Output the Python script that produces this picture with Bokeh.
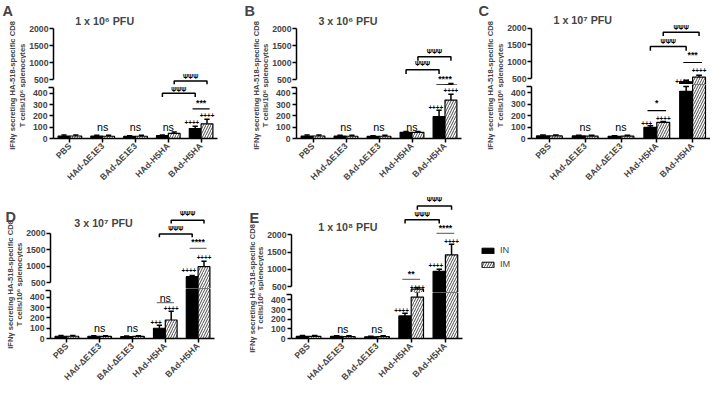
import math
from bokeh.plotting import figure
from bokeh.models import (ColumnDataSource, FactorRange, Range1d, FixedTicker,
                          Label, Legend, LegendItem)
from bokeh.transform import dodge
from bokeh.layouts import row, column
from bokeh.embed import file_html
from bokeh.resources import INLINE
from bokeh.core.properties import value

# ---------------------------------------------------------------- data
groups = ["PBS", "HAd-ΔE1E3", "BAd-ΔE1E3", "HAd-H5HA", "BAd-H5HA"]
series = ["IN", "IM"]
letters = ["A", "B", "C", "D", "E"]
titles = ["1 x 10⁶ PFU", "3 x 10⁶ PFU", "1 x 10⁷ PFU", "3 x 10⁷ PFU", "1 x 10⁸ PFU"]
y_label_1 = "IFNγ secreting HA-518-specific CD8"
y_label_2 = "T cells/10⁶ splenocytes"
low_ticks = [0, 100, 200, 300, 400]
up_ticks = [500, 1000, 1500, 2000]

in_A = [22, 22, 18, 25, 88]
in_A_err = [8, 6, 6, 5, 20]
im_A = [22, 20, 20, 45, 130]
im_A_err = [8, 8, 8, 12, 40]

in_B = [22, 22, 18, 55, 194]
in_B_err = [8, 6, 6, 8, 56]
im_B = [22, 20, 20, 55, 341]
im_B_err = [8, 8, 8, 8, 51]

in_C = [22, 22, 18, 96, 411]
in_C_err = [8, 6, 6, 14, 42]
im_C = [22, 20, 20, 141, 548]
im_C_err = [8, 8, 8, 8, 57]

in_D = [22, 22, 18, 100, 684]
in_D_err = [8, 6, 6, 30, 40]
im_D = [22, 20, 20, 180, 988]
im_D_err = [8, 8, 8, 85, 164]

in_E = [22, 22, 18, 234, 944]
in_E_err = [8, 6, 6, 29, 64]
im_E = [22, 20, 20, 430, 1425]
im_E_err = [8, 8, 8, 50, 305]

# significance annotations (text, height on the axis scale)
ann = {
    "A": dict(ns=[1, 2, 3],
              plus=[("low", 4, "IN", "++++", 138), ("low", 4, "IM", "++++", 200)],
              sig=[("low", 4, "***", 318, 262, "black")],
              brk=[("low", "IN", 402, 369, 439), ("up", "IM", 463, 367, 605)]),
    "B": dict(ns=[1, 2, 3],
              plus=[("low", 4, "IN", "++++", 276), ("low", 4, "IM", "++++", 425)],
              sig=[("up", 4, "****", 508, 350, "black")],
              brk=[("up", "IN", 792, 670, 981), ("up", "IM", 1171, 1058, 1329)]),
    "C": dict(ns=[1, 2],
              plus=[("low", 3, "IN", "+++", 130), ("low", 3, "IM", "++++", 177),
                    ("up", 4, "IN", "++++", 415), ("up", 4, "IM", "++++", 746)],
              sig=[("low", 3, "*", 307, 242, "black"), ("up", 4, "***", 1199, 981, "black")],
              brk=[("up", "IN", 1454, 1330, 1612), ("up", "IM", 1878, 1765, 2020)]),
    "D": dict(ns=[1, 2],
              plus=[("low", 3, "IN", "+++", 160), ("low", 3, "IM", "++++", 290),
                    ("up", 4, "IN", "++++", 860), ("up", 4, "IM", "++++", 1280)],
              sig=[("low", 3, "ns", 390, 350, "#777777"), ("up", 4, "****", 1737, 1544, "#777777")],
              brk=[("up", "IN", 1982, 1883, 2146), ("up", "IM", 2400, 2304, 2614)]),
    "E": dict(ns=[1, 2],
              plus=[("low", 3, "IN", "++++", 291), ("up", 3, "IM", "++++", 489),
                    ("up", 4, "IN", "++++", 1119), ("up", 4, "IM", "++++", 1822)],
              sig=[("up", 3, "**", 869, 711, "#777777"), ("up", 4, "****", 2194, 2044, "#777777")],
              brk=[("up", "IN", 2444, 2333, 2600), ("up", "IM", 2842, 2730, 3027)]),
}

# ---------------------------------------------------------------- layout (reference pixels)
FONT = "Liberation Sans"
KX = 710 / 726
KY = 388 / 404


def X(v):
    return int(round(v * KX))


def Y(v):
    return int(round(v * KY))


def fs(s):
    return f"{s * 0.97:.1f}px"


TICK_AREA = 25
BAR_W = 0.36
OFF = 0.18
CAP = 0.08

geo = {
    "A": dict(bx=0, by=0, bw=249, bh=200, ax=52, fr=222, y0=143.7, sl=11.85, y500=82, su=3.533,
              letter=(2, 2), lab=(12.5, 24.5), labc=88, title=(53, 21.5)),
    "B": dict(bx=249, by=0, bw=240, bh=200, ax=301, fr=471, y0=143.7, sl=11.85, y500=82, su=3.533,
              letter=(0, 2), lab=(12.5, 24.5), labc=88, title=(53, 21.5)),
    "C": dict(bx=489, by=0, bw=237, bh=200, ax=541, fr=726, y0=143.5, sl=11.85, y500=81.8, su=3.533,
              letter=(-1, 2), lab=(12.5, 24.5), labc=88, title=(53, 20.5)),
    "D": dict(bx=0, by=200, bw=244, bh=204, ax=49, fr=219, y0=356, sl=11.5, y500=294, su=3.42,
              letter=(5, 17), lab=(10, 21.5), labc=296, title=(55, 31.5)),
    "E": dict(bx=244, by=200, bw=234, bh=204, ax=296, fr=472, y0=360, sl=11.67, y500=298.3, su=3.6,
              letter=(11, 18), lab=(14, 25.5), labc=300, title=(58, 36.5)),
}


def blank_fig(w, h, xr, yr, **kw):
    p = figure(width=w, height=h, x_range=xr, y_range=yr, output_backend="svg",
               toolbar_location=None, tools="", **kw)
    p.outline_line_color = None
    p.xgrid.grid_line_color = None
    p.ygrid.grid_line_color = None
    p.border_fill_color = "white"
    p.background_fill_color = "white"
    return p


def style_yaxis(ax_):
    ax_.axis_line_width = 1.5
    ax_.major_tick_out = 4
    ax_.major_tick_in = 0
    ax_.major_tick_line_width = 1.5
    ax_.minor_tick_in = 0
    ax_.minor_tick_out = 0
    ax_.major_label_standoff = 1
    ax_.major_label_text_font = FONT
    ax_.major_label_text_font_style = "bold"
    ax_.major_label_text_font_size = fs(9)


def txt(p, x, y, t, size, bold=True, color="black", align="center", font=FONT):
    p.text(x=[x], y=[y], text=[t], text_font=value(font), text_font_size=value(size),
           text_font_style="bold" if bold else "normal", text_color=color,
           text_align=align, text_baseline="middle")


def make_panel(k, vin, ein, vim, eim, idx):
    g = geo[k]
    a = ann[k]
    bx, by, bw, bh = g["bx"], g["by"], g["bw"], g["bh"]
    ax, fr, y0, sl, y500, su = g["ax"], g["fr"], g["y0"], g["sl"], g["y500"], g["su"]
    yb = y500 + 6
    ylt = y500 + 8

    def vup(y):
        return 500 + (y500 - y) / su * 100

    def vlow(y):
        return (y0 - y) / sl * 100

    low_top = vlow(ylt)
    lab_w = X(ax) - TICK_AREA - X(bx)
    fig_w = X(bx + bw) - X(ax) + TICK_AREA
    mb_right = X(bx + bw) - X(fr)
    up_h = Y(yb) - Y(by)
    low_h = Y(by + bh) - Y(yb)
    low_bottom = Y(by + bh) - Y(y0)
    catw = (fr - ax) / len(groups)

    src = ColumnDataSource(dict(
        group=groups, IN=vin, IM=vim,
        IN_hi=[v + e for v, e in zip(vin, ein)],
        IM_hi=[v + e for v, e in zip(vim, eim)]))

    xr = FactorRange(factors=groups, range_padding=0, factor_padding=0)

    up = blank_fig(fig_w, up_h, xr, Range1d(vup(yb), vup(by)),
                   x_axis_location=None, min_border_left=TICK_AREA,
                   min_border_right=mb_right, min_border_top=0, min_border_bottom=0)
    low = blank_fig(fig_w, low_h, xr, Range1d(0, vlow(yb)),
                    min_border_left=TICK_AREA, min_border_right=mb_right,
                    min_border_top=0, min_border_bottom=low_bottom)

    # axes
    ya = up.yaxis[0]
    ya.bounds = (500, 2000)
    ya.ticker = FixedTicker(ticks=up_ticks)
    style_yaxis(ya)
    yl = low.yaxis[0]
    yl.bounds = (0, low_top)
    yl.ticker = FixedTicker(ticks=low_ticks, minor_ticks=[low_top])
    style_yaxis(yl)
    yl.minor_tick_out = 5
    yl.minor_tick_line_width = 1.5
    xa = low.xaxis[0]
    xa.axis_line_width = 1.5
    xa.major_tick_out = 4
    xa.major_tick_in = 0
    xa.major_tick_line_width = 1.5
    xa.major_label_orientation = math.pi / 4
    xa.major_label_standoff = 2
    xa.major_label_text_font = FONT
    xa.major_label_text_font_style = "bold"
    xa.major_label_text_font_size = fs(9)

    # bars + error bars on both parts of the broken axis
    for p in (up, low):
        p.vbar(x=dodge("group", -OFF, range=xr), top="IN", width=BAR_W, source=src,
               fill_color="black", line_color="black", line_width=1.2)
        p.vbar(x=dodge("group", OFF, range=xr), top="IM", width=BAR_W, source=src,
               fill_color="white", line_color="black", line_width=1.2,
               hatch_pattern="/", hatch_color="black", hatch_scale=5, hatch_weight=0.7)
        for s, off in (("IN", -OFF), ("IM", OFF)):
            p.segment(x0=dodge("group", off, range=xr), y0=s,
                      x1=dodge("group", off, range=xr), y1=s + "_hi",
                      source=src, line_color="black", line_width=1.5)
            p.segment(x0=dodge("group", off - CAP, range=xr), y0=s + "_hi",
                      x1=dodge("group", off + CAP, range=xr), y1=s + "_hi",
                      source=src, line_color="black", line_width=1.5)

    part = {"up": up, "low": low}
    sc = {"IN": -OFF, "IM": OFF}

    # ns labels
    for gi in a["ns"]:
        txt(low, gi + 0.5, 100, "ns", fs(11), bold=False)
    # plus labels
    for pt, gi, s, t, yv in a["plus"]:
        dx = -0.1 if s == "IN" else 0.0
        txt(part[pt], gi + 0.5 + sc[s] + dx, yv, t, fs(6.5))
    # significance between IN and IM
    for pt, gi, t, ytx, yln, col in a["sig"]:
        p = part[pt]
        p.line(x=[gi + 0.5 - 0.26, gi + 0.5 + 0.26], y=[yln, yln], line_color=col, line_width=1.2)
        if t == "ns":
            txt(p, gi + 0.5, ytx, t, fs(11), bold=False)
        else:
            txt(p, gi + 0.5, ytx, t, fs(9))
    # brackets HAd-H5HA vs BAd-H5HA
    for pt, s, yh, yd, yt in a["brk"]:
        p = part[pt]
        x1 = 3 + 0.5 + sc[s]
        x2 = 4 + 0.5 + sc[s]
        p.line(x=[x1, x1, x2, x2], y=[yd, yh, yh, yd], line_color="black", line_width=1.5)
        txt(p, (x1 + x2) / 2, yt, "\u03a8\u03a8\u03a8", fs(6.5))

    # title
    tx, ty = g["title"]
    up.add_layout(Label(x=tx / catw, y=vup(by + ty), text=titles[idx], text_font=FONT,
                        text_font_size=fs(11), text_font_style="bold",
                        text_align="center", text_baseline="middle"))

    # side strip with letter + y axis title
    tot_h = up_h + low_h
    lab = blank_fig(lab_w, tot_h, Range1d(0, lab_w), Range1d(0, tot_h),
                    x_axis_location=None, y_axis_location=None, min_border=0)
    lx, ly = g["letter"]
    lab.add_layout(Label(x=max(X(bx + lx) - X(bx), 0), y=tot_h - (Y(by + ly) - Y(by)),
                         text=letters[idx], text_font=FONT, text_font_size=fs(15),
                         text_font_style="bold", text_align="left", text_baseline="top"))
    yc = tot_h - (Y(g["labc"]) - Y(by))
    l1, l2 = g["lab"]
    lab.add_layout(Label(x=X(bx + l1) - X(bx), y=yc, text=y_label_1, angle=math.pi / 2,
                         text_font=FONT, text_font_size=fs(7.8), text_font_style="bold",
                         text_align="center", text_baseline="middle"))
    lab.add_layout(Label(x=min(X(bx + l2) - X(bx), lab_w - 4), y=yc, text=y_label_2,
                         angle=math.pi / 2, text_font=FONT, text_font_size=fs(7.8),
                         text_font_style="bold", text_align="center", text_baseline="middle"))
    return row(lab, column(up, low))


pA = make_panel("A", in_A, in_A_err, im_A, im_A_err, 0)
pB = make_panel("B", in_B, in_B_err, im_B, im_B_err, 1)
pC = make_panel("C", in_C, in_C_err, im_C, im_C_err, 2)
pD = make_panel("D", in_D, in_D_err, im_D, im_D_err, 3)
pE = make_panel("E", in_E, in_E_err, im_E, im_E_err, 4)

# legend area
lw = X(726) - X(478)
lh = Y(404) - Y(200)
pl = blank_fig(lw, lh, Range1d(0, 1), Range1d(0, 1), x_axis_location=None, y_axis_location=None,
               min_border_left=X(491) - X(478), min_border_top=Y(255) - Y(200),
               min_border_right=0, min_border_bottom=0)
leg_src = ColumnDataSource(dict(x=[-5.0], top=[-5.0]))
r_in = pl.vbar(x="x", top="top", width=0.1, source=leg_src,
               fill_color="black", line_color="black")
r_im = pl.vbar(x="x", top="top", width=0.1, source=leg_src,
               fill_color="white", line_color="black",
               hatch_pattern="/", hatch_color="black", hatch_scale=5, hatch_weight=0.7)
leg = Legend(items=[LegendItem(label=series[0], renderers=[r_in]),
                    LegendItem(label=series[1], renderers=[r_im])],
             location="top_left", margin=0, padding=0, spacing=4,
             glyph_width=15, glyph_height=7, label_height=10, label_standoff=5,
             label_text_font=FONT, label_text_font_size=fs(9.5),
             border_line_color=None, background_fill_alpha=0)
pl.add_layout(leg)

layout = column(row(pA, pB, pC), row(pD, pE, pl))
open("out.html", "w").write(file_html(layout, INLINE))
